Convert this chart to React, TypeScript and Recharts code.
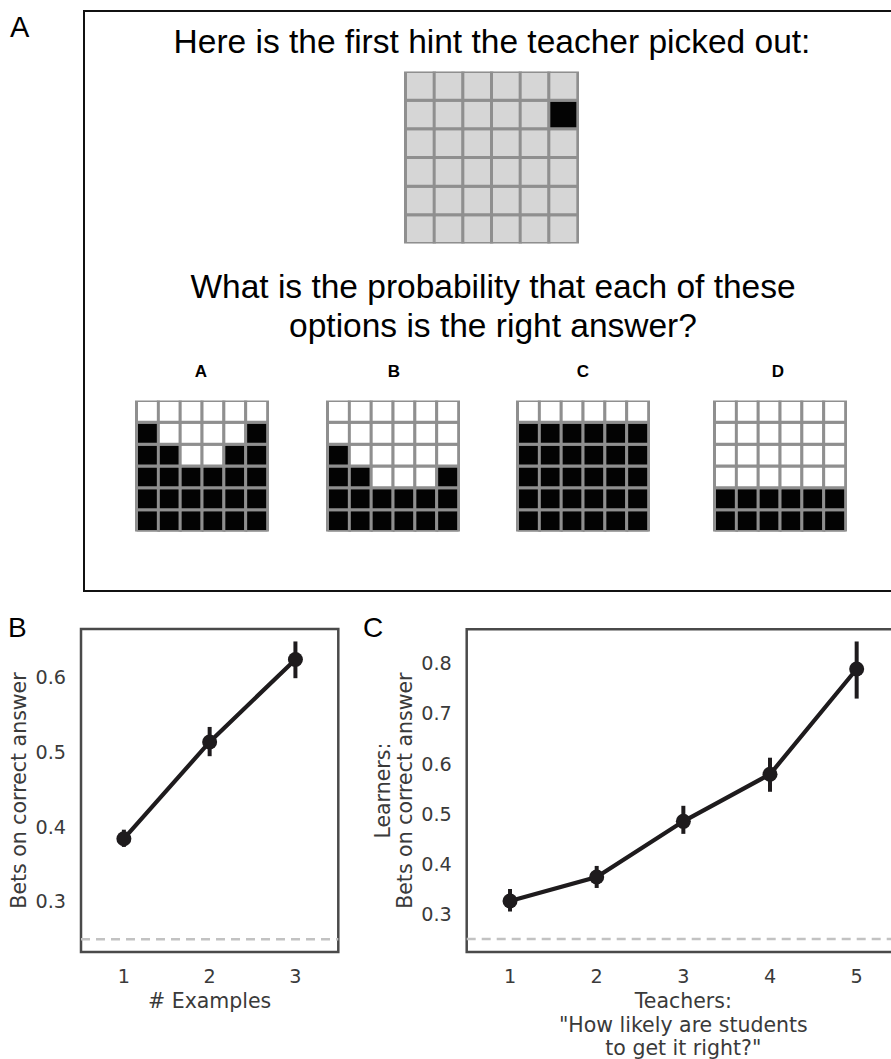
import React from 'react';
import {
  Bar,
  BarChart,
  Cell,
  ErrorBar,
  Label,
  Line,
  LineChart,
  ReferenceArea,
  ReferenceLine,
  XAxis,
  YAxis,
} from 'recharts';

// 6x6 boards, row 0 on top, '1' = filled cell
const HINT_BOARD = ['000000', '000001', '000000', '000000', '000000', '000000'];
const OPTION_NAMES = ['A', 'B', 'C', 'D'];
const OPTION_BOARDS = [
  ['000000', '100001', '110011', '111111', '111111', '111111'],
  ['000000', '000000', '100000', '110001', '111111', '111111'],
  ['000000', '111111', '111111', '111111', '111111', '111111'],
  ['000000', '000000', '000000', '000000', '111111', '111111'],
];
const BOARD_COLS = [0, 1, 2, 3, 4, 5];
const BOARD_ROWS = [0, 1, 2, 3, 4, 5];

// panel B: bets on the correct answer by number of examples
const EXAMPLES = [1, 2, 3];
const EX_MEAN = [0.384, 0.513, 0.623];
const EX_LOW = [0.373, 0.494, 0.598];
const EX_HIGH = [0.396, 0.533, 0.647];
const B_TICKS = [0.3, 0.4, 0.5, 0.6];

// panel C: learner bets by teacher rating
const RATINGS = [1, 2, 3, 4, 5];
const RT_MEAN = [0.326, 0.374, 0.485, 0.579, 0.789];
const RT_LOW = [0.305, 0.352, 0.46, 0.544, 0.73];
const RT_HIGH = [0.35, 0.396, 0.516, 0.612, 0.844];
const C_TICKS = [0.3, 0.4, 0.5, 0.6, 0.7, 0.8];

const CHANCE = 0.25;

const INK = '#1e1b1d';
const FRAME = '#4a4a4a';
const GRID_LINE = '#8f8f8f';
const AXIS_TEXT = '#3a3a3a';
const MPL_FONT = '"DejaVu Sans", sans-serif';
const SANS = '"Liberation Sans", Arial, Helvetica, sans-serif';

function Board({ board, on, off, size }: { board: string[]; on: string; off: string; size: number }) {
  const data = BOARD_COLS.map((c) => {
    const row: Record<string, number> = { col: c };
    BOARD_ROWS.forEach((r) => (row['r' + r] = 1));
    return row;
  });
  return (
    <BarChart
      width={size}
      height={size}
      data={data}
      margin={{ top: 1.5, right: 1.5, bottom: 1.5, left: 1.5 }}
      barCategoryGap={0}
      barGap={0}
    >
      <XAxis dataKey="col" type="category" hide />
      <YAxis type="number" domain={[0, 6]} hide allowDataOverflow />
      {[...BOARD_ROWS].reverse().map((r) => (
        <Bar
          key={r}
          dataKey={'r' + r}
          stackId="board"
          stroke={GRID_LINE}
          strokeWidth={3}
          isAnimationActive={false}
        >
          {BOARD_COLS.map((c) => (
            <Cell
              key={c}
              fill={board[r][c] === '1' ? on : off}
              stroke={GRID_LINE}
              strokeWidth={3}
            />
          ))}
        </Bar>
      ))}
    </BarChart>
  );
}

type Geo = { w: number; h: number; left: number; top: number; right: number; bottom: number };

function PointPlot({
  geo,
  xs,
  mean,
  low,
  high,
  xDomain,
  yDomain,
  yTicks,
  xTitle,
  yTitle,
}: {
  geo: Geo;
  xs: number[];
  mean: number[];
  low: number[];
  high: number[];
  xDomain: [number, number];
  yDomain: [number, number];
  yTicks: number[];
  xTitle: string[];
  yTitle: string[];
}) {
  const data = xs.map((x, i) => ({ x, mean: mean[i], err: [mean[i] - low[i], high[i] - mean[i]] }));
  const tick = { fontSize: 19.2, fill: AXIS_TEXT, fontFamily: MPL_FONT };
  const cx = (geo.left + geo.right) / 2;
  const cy = (geo.top + geo.bottom) / 2;

  const xLabel = () => (
    <g>
      {xTitle.map((t, i) => (
        <text
          key={i}
          x={cx}
          y={geo.bottom + 56 + i * 23.7}
          textAnchor="middle"
          fontSize={20.5}
          fill={AXIS_TEXT}
          fontFamily={MPL_FONT}
        >
          {t}
        </text>
      ))}
    </g>
  );
  const yLabel = () => (
    <g>
      {yTitle.map((t, i) => {
        const bx = geo.left - 55 - (yTitle.length - 1 - i) * 21.5;
        return (
          <text
            key={i}
            x={bx}
            y={cy}
            transform={`rotate(-90, ${bx}, ${cy})`}
            textAnchor="middle"
            fontSize={20.5}
            fill={AXIS_TEXT}
            fontFamily={MPL_FONT}
          >
            {t}
          </text>
        );
      })}
    </g>
  );

  return (
    <LineChart
      width={geo.w}
      height={geo.h}
      data={data}
      margin={{ top: geo.top, right: geo.w - geo.right, bottom: 0, left: 0 }}
    >
      <XAxis
        dataKey="x"
        type="number"
        domain={xDomain}
        ticks={xs}
        allowDataOverflow
        axisLine={false}
        tickLine={false}
        tickSize={0}
        tickMargin={17.5}
        tick={tick}
        height={geo.h - geo.bottom}
      >
        <Label content={xLabel} />
      </XAxis>
      <YAxis
        type="number"
        domain={yDomain}
        ticks={yTicks}
        allowDataOverflow
        axisLine={false}
        tickLine={false}
        tickSize={0}
        tickMargin={15}
        tick={tick}
        width={geo.left}
      >
        <Label content={yLabel} />
      </YAxis>
      <ReferenceLine y={CHANCE} stroke="#c2c2c2" strokeWidth={2.5} strokeDasharray="9 6" />
      <Line
        dataKey="mean"
        stroke={INK}
        strokeWidth={4.2}
        dot={{ r: 7.5, fill: INK, stroke: 'none' }}
        activeDot={false}
        isAnimationActive={false}
      >
        <ErrorBar dataKey="err" direction="y" width={0} stroke={INK} strokeWidth={4} />
      </Line>
      <ReferenceArea
        x1={xDomain[0]}
        x2={xDomain[1]}
        y1={yDomain[0]}
        y2={yDomain[1]}
        fill="none"
        stroke={FRAME}
        strokeWidth={2.5}
        ifOverflow="visible"
      />
    </LineChart>
  );
}

const OPTION_LEFT = [135, 326, 516, 713];
const OPTION_CENTER = [201, 394, 583, 778];

export default function App() {
  return (
    <div
      style={{
        position: 'absolute',
        left: 0,
        top: 0,
        width: 891,
        height: 1059,
        overflow: 'hidden',
        background: '#fff',
      }}
    >
      <svg width={891} height={1059} style={{ position: 'absolute', left: 0, top: 0 }}>
        <rect x={84} y={11} width={900} height={580} fill="none" stroke="#111" strokeWidth={2} />
        <g fontFamily={SANS} fill="#000">
          <text x={10} y={37} fontSize={29}>A</text>
          <text x={8} y={637} fontSize={28}>B</text>
          <text x={363} y={637} fontSize={28}>C</text>
          <text x={492} y={53} fontSize={33.5} textAnchor="middle">
            Here is the first hint the teacher picked out:
          </text>
          <text x={493} y={298} fontSize={33.5} textAnchor="middle">
            What is the probability that each of these
          </text>
          <text x={493} y={337} fontSize={33.5} textAnchor="middle">
            options is the right answer?
          </text>
          {OPTION_NAMES.map((n, i) => (
            <text key={n} x={OPTION_CENTER[i]} y={377} fontSize={17} fontWeight="bold" textAnchor="middle">
              {n}
            </text>
          ))}
        </g>
      </svg>

      <div style={{ position: 'absolute', left: 404, top: 70 }}>
        <Board board={HINT_BOARD} on="#030303" off="#d6d6d6" size={175} />
      </div>
      {OPTION_BOARDS.map((b, i) => (
        <div
          key={i}
          style={{ position: 'absolute', left: OPTION_LEFT[i], top: 399, height: 132.5, overflow: 'hidden' }}
        >
          <Board board={b} on="#030303" off="#ffffff" size={134} />
        </div>
      ))}

      <div style={{ position: 'absolute', left: 0, top: 600 }}>
        <PointPlot
          geo={{ w: 350, h: 459, left: 81, top: 29, right: 338.3, bottom: 352 }}
          xs={EXAMPLES}
          mean={EX_MEAN}
          low={EX_LOW}
          high={EX_HIGH}
          xDomain={[0.5, 3.5]}
          yDomain={[0.2329, 0.6636]}
          yTicks={B_TICKS}
          xTitle={['# Examples']}
          yTitle={['Bets on correct answer']}
        />
      </div>
      <div style={{ position: 'absolute', left: 360, top: 600 }}>
        <PointPlot
          geo={{ w: 540, h: 459, left: 106.7, top: 29.3, right: 540, bottom: 352 }}
          xs={RATINGS}
          mean={RT_MEAN}
          low={RT_LOW}
          high={RT_HIGH}
          xDomain={[0.5, 5.5]}
          yDomain={[0.2242, 0.8683]}
          yTicks={C_TICKS}
          xTitle={['Teachers:', '"How likely are students', 'to get it right?"']}
          yTitle={['Learners:', 'Bets on correct answer']}
        />
      </div>
    </div>
  );
}
